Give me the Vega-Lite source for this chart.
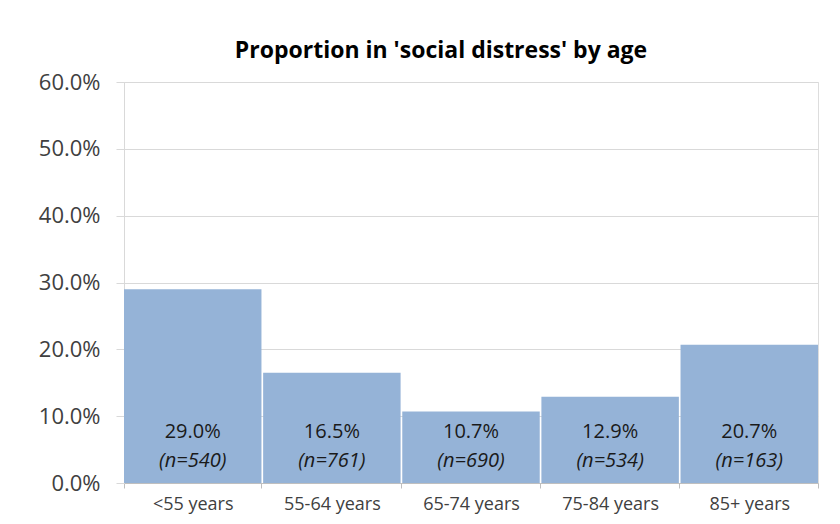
{
  "$schema": "https://vega.github.io/schema/vega-lite/v6.json",
  "autosize": {"type": "none"},
  "width": 694,
  "height": 401,
  "padding": {"left": 124, "top": 82, "right": 22, "bottom": 41},
  "background": "white",
  "title": {
    "text": "Proportion in 'social distress' by age",
    "font": "Open Sans",
    "fontSize": 23,
    "fontWeight": "bold",
    "color": "#000000",
    "anchor": "middle",
    "offset": 8,
    "dx": -30
  },
  "data": {
    "values": [
      {"age": "<55 years", "share": 0.290, "n": 540},
      {"age": "55-64 years", "share": 0.165, "n": 761},
      {"age": "65-74 years", "share": 0.107, "n": 690},
      {"age": "75-84 years", "share": 0.129, "n": 534},
      {"age": "85+ years", "share": 0.207, "n": 163}
    ]
  },
  "transform": [
    {"calculate": "'(n=' + datum.n + ')'", "as": "nLabel"}
  ],
  "encoding": {
    "x": {
      "field": "age",
      "type": "nominal",
      "sort": null,
      "scale": {"paddingInner": 0.012, "paddingOuter": 0},
      "axis": {
        "title": null,
        "labelAngle": 0,
        "labelFont": "Open Sans",
        "labelFontSize": 18,
        "labelColor": "#404040",
        "labelPadding": 7,
        "domainColor": "#bfbfbf",
        "tickColor": "#bfbfbf",
        "tickBand": "extent",
        "tickSize": 5,
        "grid": false
      }
    }
  },
  "layer": [
    {
      "mark": {"type": "bar", "color": "#95b3d7"},
      "encoding": {
        "y": {
          "field": "share",
          "type": "quantitative",
          "scale": {"domain": [0, 0.6], "nice": false},
          "axis": {
            "title": null,
            "format": ".1%",
            "values": [0, 0.1, 0.2, 0.3, 0.4, 0.5, 0.6],
            "labelFont": "Open Sans",
            "labelFontSize": 22,
            "labelColor": "#404040",
            "labelPadding": 16,
            "domainColor": "#d9d9d9",
            "tickColor": "#d9d9d9",
            "tickSize": 8,
            "gridColor": "#d9d9d9",
            "gridWidth": 1
          }
        }
      }
    },
    {
      "mark": {"type": "text", "font": "Open Sans", "fontSize": 20, "color": "#1a1a1a", "baseline": "middle", "dy": -51},
      "encoding": {
        "y": {"datum": 0},
        "text": {"field": "share", "type": "quantitative", "format": ".1%"}
      }
    },
    {
      "mark": {"type": "text", "font": "Open Sans", "fontSize": 20, "fontStyle": "italic", "color": "#1a1a1a", "baseline": "middle", "dy": -22},
      "encoding": {
        "y": {"datum": 0},
        "text": {"field": "nLabel", "type": "nominal"}
      }
    }
  ]
}
